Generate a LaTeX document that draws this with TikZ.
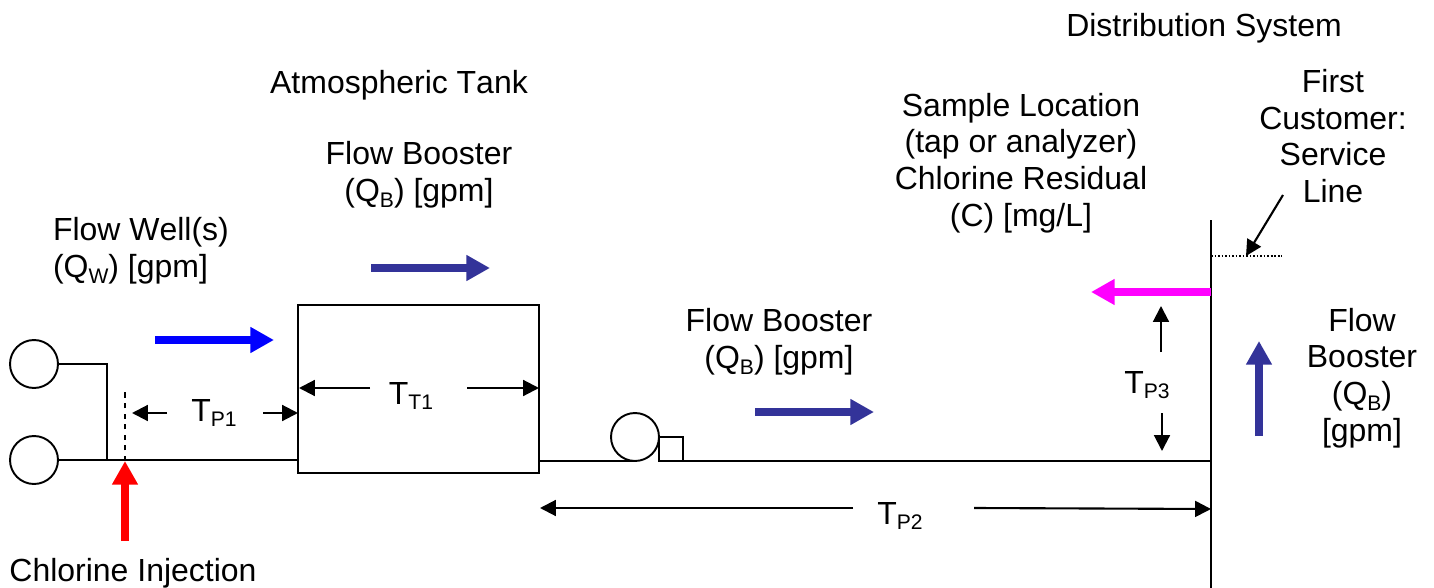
\documentclass[tikz,border=0pt]{standalone}
\usepackage{fontspec}
\setmainfont[Kerning=Off]{Liberation Sans}
\usetikzlibrary{arrows.meta}
\newcommand{\subtxt}[1]{\raisebox{-3.2pt}{\fontsize{12}{12}\selectfont #1}}
\begin{document}
\begin{tikzpicture}[x=0.02cm,y=0.02cm]
\tikzstyle{every node}+=[inner sep=0pt]
\tikzstyle{pipe}=[black, line width=1.1pt]
\tikzstyle{wellnode}=[draw, circle, line width=1.1pt, minimum size=0.96cm]
\tikzstyle{labeltext}=[align=center, font=\fontsize{18.2}{20.9}\selectfont]
\tikzstyle{dimarrow}=[black, line width=1.2pt, -{Triangle[length=9pt,width=9pt]}]
\tikzstyle{flowarrow}=[line width=4.6pt, -{Triangle[length=13.5pt,width=14pt]}]
\definecolor{boostblue}{RGB}{51,51,153}
\definecolor{samplepink}{RGB}{255,0,255}
\useasboundingbox (0,0) rectangle (1434,-588);
% wells, tank, pump
\node [wellnode] (wellA) at (34,-364) {};
\node [wellnode] (wellB) at (34,-460) {};
\node [draw, line width=1.1pt, minimum width=4.82cm, minimum height=3.36cm] (tank) at (418.5,-389) {};
\node [wellnode] (pump) at (635,-437) {};
\node [draw, line width=1.1pt, minimum size=0.48cm] (valve) at (671,-449) {};
% pipes
\coordinate (wellJoin) at (107,-460);
\coordinate (tankIn) at (298,-460);
\coordinate (tankOut) at (539,-461);
\coordinate (valveOut) at (683,-461);
\coordinate (mainJoin) at (1211,-461);
\coordinate (mainTop) at (1211,-220);
\coordinate (mainEnd) at (1211,-588);
\coordinate (lineStart) at (1211,-256);
\coordinate (lineEnd) at (1282,-256);
\draw [pipe] (wellA.east) -| (wellJoin);
\draw [pipe] (wellB.east) -- (tankIn);
\draw [pipe] (tankOut) -- (tankOut -| pump);
\draw [pipe] (valveOut) -- (mainJoin);
\draw [pipe] (mainTop) -- (mainEnd);
\draw [black, line width=1pt, densely dotted] (lineStart) -- (lineEnd);
% flows
\coordinate (wellFlowA) at (155,-340);
\coordinate (wellFlowB) at (274,-340);
\coordinate (tankFlowA) at (371,-268);
\coordinate (tankFlowB) at (490,-268);
\coordinate (pumpFlowA) at (755,-412);
\coordinate (pumpFlowB) at (874,-412);
\coordinate (mainFlowA) at (1259,-436);
\coordinate (mainFlowB) at (1259,-341);
\coordinate (sampleA) at (1211,-292);
\coordinate (sampleB) at (1091,-292);
\coordinate (injectA) at (125,-541);
\coordinate (injectB) at (125,-461);
\coordinate (injectTop) at (125,-388);
\draw [flowarrow, blue] (wellFlowA) -- (wellFlowB);
\draw [flowarrow, boostblue] (tankFlowA) -- (tankFlowB);
\draw [flowarrow, boostblue] (pumpFlowA) -- (pumpFlowB);
\draw [flowarrow, boostblue] (mainFlowA) -- (mainFlowB);
\draw [flowarrow, samplepink] (sampleA) -- (sampleB);
\draw [flowarrow, red] (injectA) -- (injectB);
\draw [black, line width=1pt, dashed] (injectB) -- (injectTop);
% texts
\node [labeltext] (distLabel) at (1204,-28) {Distribution System};
\node [labeltext] (tankLabel) at (399,-85) {Atmospheric Tank};
\node [labeltext] (tankFlowLabel) at (419,-175) {Flow Booster\\(Q\subtxt{B}) [gpm]};
\node [labeltext, align=left] (wellLabel) at (141,-251) {Flow Well(s)\\(Q\subtxt{W}) [gpm]};
\node [labeltext] (pumpLabel) at (779,-342) {Flow Booster\\(Q\subtxt{B}) [gpm]};
\node [labeltext] (sampleLabel) at (1021,-163) {Sample Location\\(tap or analyzer)\\Chlorine Residual\\(C) [mg/L]};
\node [labeltext] (customerLabel) at (1333,-136) {First\\Customer:\\Service\\Line};
\node [labeltext] (mainLabel) at (1362,-378) {Flow\\Booster\\(Q\subtxt{B})\\{[gpm]}};
\node [labeltext] (injectLabel) at (133,-573) {Chlorine Injection};
\node [labeltext] (tT) at (411,-396) {T\subtxt{T1}};
\node [labeltext] (tA) at (214,-413) {T\subtxt{P1}};
\node [labeltext] (tB) at (900,-516) {T\subtxt{P2}};
\node [labeltext] (tC) at (1147,-385) {T\subtxt{P3}};
% times
\coordinate (tAa) at (167,-413);
\coordinate (tAb) at (132,-413);
\coordinate (tAc) at (263,-413);
\coordinate (tAd) at (298,-413);
\coordinate (tTa) at (370,-388);
\coordinate (tTb) at (299,-388);
\coordinate (tTc) at (467,-388);
\coordinate (tTd) at (539,-388);
\coordinate (tBa) at (853,-508);
\coordinate (tBb) at (540,-508);
\coordinate (tBc) at (974,-508);
\coordinate (tBd) at (1211,-509);
\coordinate (tCa) at (1161,-352);
\coordinate (tCb) at (1161,-306);
\coordinate (tCc) at (1162,-413);
\coordinate (tCd) at (1162,-451);
\coordinate (lineArrow) at (1283,-195);
\coordinate (lineTip) at (1246,-256);
\draw [dimarrow] (tAa) -- (tAb);
\draw [dimarrow] (tAc) -- (tAd);
\draw [dimarrow] (tTa) -- (tTb);
\draw [dimarrow] (tTc) -- (tTd);
\draw [dimarrow] (tBa) -- (tBb);
\draw [dimarrow] (tBc) -- (tBd);
\draw [dimarrow] (tCa) -- (tCb);
\draw [dimarrow] (tCc) -- (tCd);
\draw [dimarrow] (lineArrow) -- (lineTip);
\end{tikzpicture}
\end{document}
